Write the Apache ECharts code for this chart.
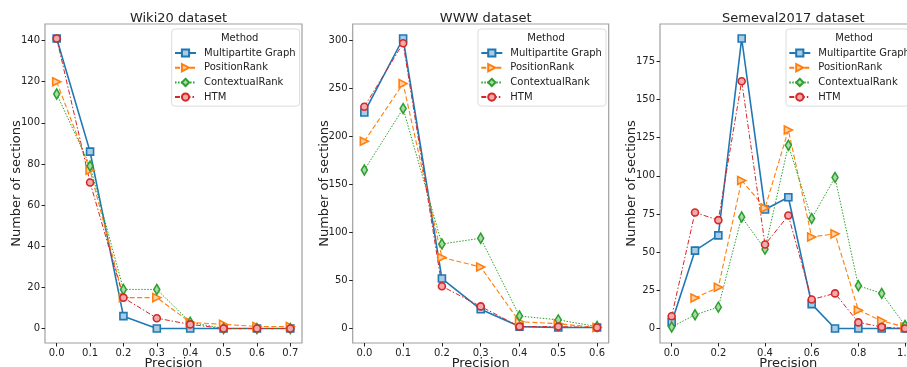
<!DOCTYPE html>
<html>
<head>
<meta charset="utf-8">
<script src="https://cdn.jsdelivr.net/npm/echarts@6/dist/echarts.min.js"></script>
<style>
  html, body { margin: 0; padding: 0; background: #fff; }
  #main { width: 907px; height: 367px; }
</style>
</head>
<body>
<div id="main"></div>
<script>
// ---- data ----
const methods = ['Multipartite Graph', 'PositionRank', 'ContextualRank', 'HTM'];

const wikiX = [0.0, 0.1, 0.2, 0.3, 0.4, 0.5, 0.6, 0.7];
const wikiMulti = [141, 86, 6, 0, 0, 0, 0, 0];
const wikiPos = [120, 77, 15, 15, 3, 2, 1, 1];
const wikiCtx = [114, 79, 19, 19, 3, 0, 0, 0];
const wikiHtm = [141, 71, 15, 5, 2, 0, 0, 0];

const wwwX = [0.0, 0.1, 0.2, 0.3, 0.4, 0.5, 0.6];
const wwwMulti = [225, 302, 52, 20, 2, 1, 1];
const wwwPos = [195, 255, 74, 64, 7, 5, 1];
const wwwCtx = [165, 229, 88, 94, 13, 9, 2];
const wwwHtm = [231, 297, 44, 23, 2, 2, 1];

const semX = [0.0, 0.1, 0.2, 0.3, 0.4, 0.5, 0.6, 0.7, 0.8, 0.9, 1.0];
const semMulti = [4, 51, 61, 190, 78, 86, 16, 0, 0, 0, 0];
const semPos = ['-', 20, 27, 97, 79, 130, 60, 62, 12, 5, 1];
const semCtx = [1, 9, 14, 73, 52, 120, 72, 99, 28, 23, 2];
const semHtm = [8, 76, 71, 162, 55, 74, 19, 23, 4, 1, 0];

const wikiYTicks = [0, 20, 40, 60, 80, 100, 120, 140];
const wwwYTicks = [0, 50, 100, 150, 200, 250, 300];
const semYTicks = [0, 25, 50, 75, 100, 125, 150, 175];
const wikiXTicks = [0.0, 0.1, 0.2, 0.3, 0.4, 0.5, 0.6, 0.7];
const wwwXTicks = [0.0, 0.1, 0.2, 0.3, 0.4, 0.5, 0.6];
const semXTicks = [0.0, 0.2, 0.4, 0.6, 0.8, 1.0];

const titles = ['Wiki20 dataset', 'WWW dataset', 'Semeval2017 dataset'];

// ---- layout ----
const panels = [
    {left: 45, right: 605, xMin: -0.035, xMax: 0.735, yMin: -7.05, yMax: 148.05, xs: wikiX,
        ys: [wikiMulti, wikiPos, wikiCtx, wikiHtm], yTicks: wikiYTicks, xTicks: wikiXTicks, legendLeft: 171.7},
    {left: 352.7, right: 298.3, xMin: -0.03, xMax: 0.63, yMin: -15.1, yMax: 317.1, xs: wwwX,
        ys: [wwwMulti, wwwPos, wwwCtx, wwwHtm], yTicks: wwwYTicks, xTicks: wwwXTicks, legendLeft: 478},
    {left: 660, right: -9.7, xMin: -0.05, xMax: 1.05, yMin: -9.5, yMax: 199.5, xs: semX,
        ys: [semMulti, semPos, semCtx, semHtm], yTicks: semYTicks, xTicks: semXTicks, legendLeft: 786}
];

const styles = [
    {color: '#1f77b4', fill: '#a9cbe3', symbol: 'rect', size: 7, rotate: 0, width: 1.6, type: 'solid'},
    {color: '#ff7f0e', fill: '#ffd0a6', symbol: 'triangle', size: 8, rotate: -90, width: 1.1, type: [5, 2.5]},
    {color: '#2ca02c', fill: '#acd9ac', symbol: 'diamond', size: [6, 10], rotate: 0, width: 1, type: [1.5, 1.5]},
    {color: '#d62728', fill: '#f0aaaa', symbol: 'circle', size: 7, rotate: 0, width: 1, type: [5, 2, 1.5, 2]}
];

const textColor = '#222';
const frameColor = '#a0a0a0';
const font = 'DejaVu Sans';

let grid = [], xAxis = [], yAxis = [], series = [], title = [], legend = [];

panels.forEach((p, i) => {
    grid.push({left: p.left, right: p.right, top: 24, bottom: 24, show: true,
        borderColor: frameColor, borderWidth: 1.2, containLabel: false, outerBoundsMode: 'none'});
    xAxis.push({
        type: 'value', gridIndex: i, min: p.xMin, max: p.xMax,
        name: 'Precision', nameLocation: 'middle', nameGap: 14, nameMoveOverlap: false,
        nameTextStyle: {fontSize: 13, color: textColor, fontFamily: font, verticalAlign: 'top'},
        axisLine: {show: false, onZero: false}, splitLine: {show: false},
        axisTick: {show: true, length: 3.5, lineStyle: {color: textColor}, customValues: p.xTicks},
        axisLabel: {color: textColor, fontSize: 10, fontFamily: font, margin: 5,
            customValues: p.xTicks, formatter: v => v.toFixed(1)}
    });
    yAxis.push({
        type: 'value', gridIndex: i, min: p.yMin, max: p.yMax,
        name: 'Number of sections', nameLocation: 'middle', nameGap: 22, nameMoveOverlap: false,
        nameTextStyle: {fontSize: 13, color: textColor, fontFamily: font},
        axisLine: {show: false, onZero: false}, splitLine: {show: false},
        axisTick: {show: true, length: 3.5, lineStyle: {color: textColor}, customValues: p.yTicks},
        axisLabel: {color: textColor, fontSize: 10, fontFamily: font, margin: 5,
            customValues: p.yTicks, formatter: v => String(v)}
    });
    const plotRight = 907 - p.right;
    title.push({text: titles[i], left: (p.left + plotRight) / 2, top: 7, textAlign: 'center',
        textStyle: {fontSize: 13, fontWeight: 'normal', color: textColor, fontFamily: font}});
    title.push({text: 'Method', left: p.legendLeft + 63, top: 28, textAlign: 'center', z: 10,
        textStyle: {fontSize: 10, fontWeight: 'normal', color: textColor, fontFamily: font}});
    legend.push({
        data: methods, orient: 'vertical', left: p.legendLeft, top: 29,
        padding: [17, 4, 2, 2.3], itemWidth: 21, itemHeight: 9, itemGap: 0.7,
        backgroundColor: 'rgba(255,255,255,0.85)', borderColor: '#dcdcdc', borderWidth: 1, borderRadius: 3,
        textStyle: {fontSize: 10, color: textColor, fontFamily: font, lineHeight: 14, padding: [0, 0, 0, 3]},
        selectedMode: false
    });
    p.ys.forEach((vals, k) => {
        const s = styles[k];
        const pts = [];
        vals.forEach((v, j) => { if (v !== '-') pts.push([p.xs[j], v]); });
        series.push({
            name: methods[k], type: 'line', xAxisIndex: i, yAxisIndex: i, data: pts,
            symbol: s.symbol, symbolSize: s.size, symbolRotate: s.rotate, showAllSymbol: true,
            lineStyle: {color: s.color, width: s.width, type: s.type},
            itemStyle: {color: s.fill, borderColor: s.color, borderWidth: 1.6},
            animation: false, silent: true
        });
    });
});

const chart = echarts.init(document.getElementById('main'));
chart.setOption({animation: false, title, legend, grid, xAxis, yAxis, series});
</script>
</body>
</html>
